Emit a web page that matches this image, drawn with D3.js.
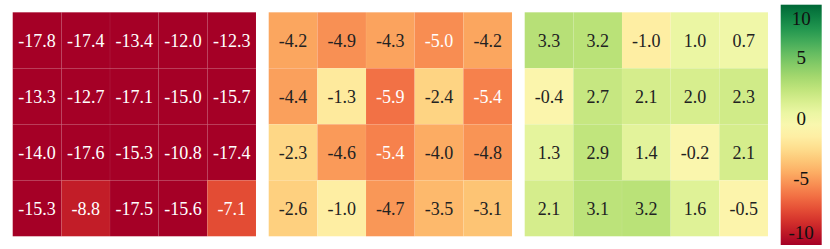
<!DOCTYPE html>
<meta charset="utf-8">
<style>
body { margin: 0; background: #fff; }
</style>
<svg width="830" height="249"></svg>
<script src="https://cdn.jsdelivr.net/npm/d3@7"></script>
<script>

// values per panel, row by row
var panelA = [
  [-17.8, -17.4, -13.4, -12.0, -12.3],
  [-13.3, -12.7, -17.1, -15.0, -15.7],
  [-14.0, -17.6, -15.3, -10.8, -17.4],
  [-15.3, -8.8, -17.5, -15.6, -7.1]
];
var panelB = [
  [-4.2, -4.9, -4.3, -5.0, -4.2],
  [-4.4, -1.3, -5.9, -2.4, -5.4],
  [-2.3, -4.6, -5.4, -4.0, -4.8],
  [-2.6, -1.0, -4.7, -3.5, -3.1]
];
var panelC = [
  [3.3, 3.2, -1.0, 1.0, 0.7],
  [-0.4, 2.7, 2.1, 2.0, 2.3],
  [1.3, 2.9, 1.4, -0.2, 2.1],
  [2.1, 3.1, 3.2, 1.6, -0.5]
];
var panels = [panelA, panelB, panelC];
var colorTicks = [-10, -5, 0, 5, 10];

var font = "'Liberation Serif', 'DejaVu Serif', 'Times New Roman', Times, serif";

var svg = d3.select("svg");

var color = d3.scaleSequential(d3.interpolateRdYlGn).domain([-10, 10]).clamp(true);

var px = d3.scaleBand().domain(d3.range(panels.length)).range([12.7, 768]).paddingInner(0.0496).paddingOuter(0);
var col = d3.scaleBand().domain(d3.range(5)).range([0, px.bandwidth()]);
var row = d3.scaleBand().domain(d3.range(4)).range([12.3, 236.3]);

panels.forEach(function(data, p) {
  var g = svg.append("g").attr("transform", "translate(" + px(p) + ",0)");
  var cells = [];
  data.forEach(function(r, i) {
    r.forEach(function(v, j) { cells.push({r: i, c: j, v: v}); });
  });
  var cell = g.selectAll(".cell").data(cells).enter().append("g").attr("class", "cell");
  cell.append("rect")
      .attr("x", function(d) { return col(d.c); })
      .attr("y", function(d) { return row(d.r); })
      .attr("width", col.bandwidth())
      .attr("height", row.bandwidth())
      .attr("fill", function(d) { return color(d.v); })
      .attr("stroke", "rgba(255,255,255,0.06)")
      .attr("stroke-width", 0.8);
  cell.append("text")
      .attr("x", function(d) { return col(d.c) + col.bandwidth() / 2; })
      .attr("y", function(d) { return row(d.r) + row.bandwidth() / 2; })
      .attr("dy", "0.35em")
      .attr("text-anchor", "middle")
      .attr("font-family", font)
      .attr("font-size", 18)
      .attr("fill", function(d) { return d.v <= -5 || d.v >= 7 ? "#fff" : "#222"; })
      .text(function(d) { return d.v.toFixed(1); });
});

// colour bar
var cb = {x: 780.7, w: 41, top: 4.7, bottom: 245};
var cy = d3.scaleLinear().domain([-10, 10]).range([cb.bottom, cb.top]);

var grad = svg.append("defs").append("linearGradient")
    .attr("id", "cbar").attr("x1", 0).attr("y1", 1).attr("x2", 0).attr("y2", 0);
grad.selectAll("stop").data(d3.range(0, 1.0001, 0.05)).enter().append("stop")
    .attr("offset", function(t) { return t; })
    .attr("stop-color", function(t) { return d3.interpolateRdYlGn(t); });

svg.append("rect")
    .attr("x", cb.x).attr("y", cb.top)
    .attr("width", cb.w).attr("height", cb.bottom - cb.top)
    .attr("fill", "url(#cbar)");

svg.selectAll(".cbtick").data(colorTicks).enter().append("text")
    .attr("class", "cbtick")
    .attr("x", cb.x + cb.w / 2)
    .attr("y", function(v) { return Math.max(18, Math.min(232, cy(v) - 7)); })
    .attr("dy", "0.35em")
    .attr("text-anchor", "middle")
    .attr("font-family", font)
    .attr("font-size", 19)
    .attr("fill", "#111")
    .text(function(v) { return v; });

</script>
